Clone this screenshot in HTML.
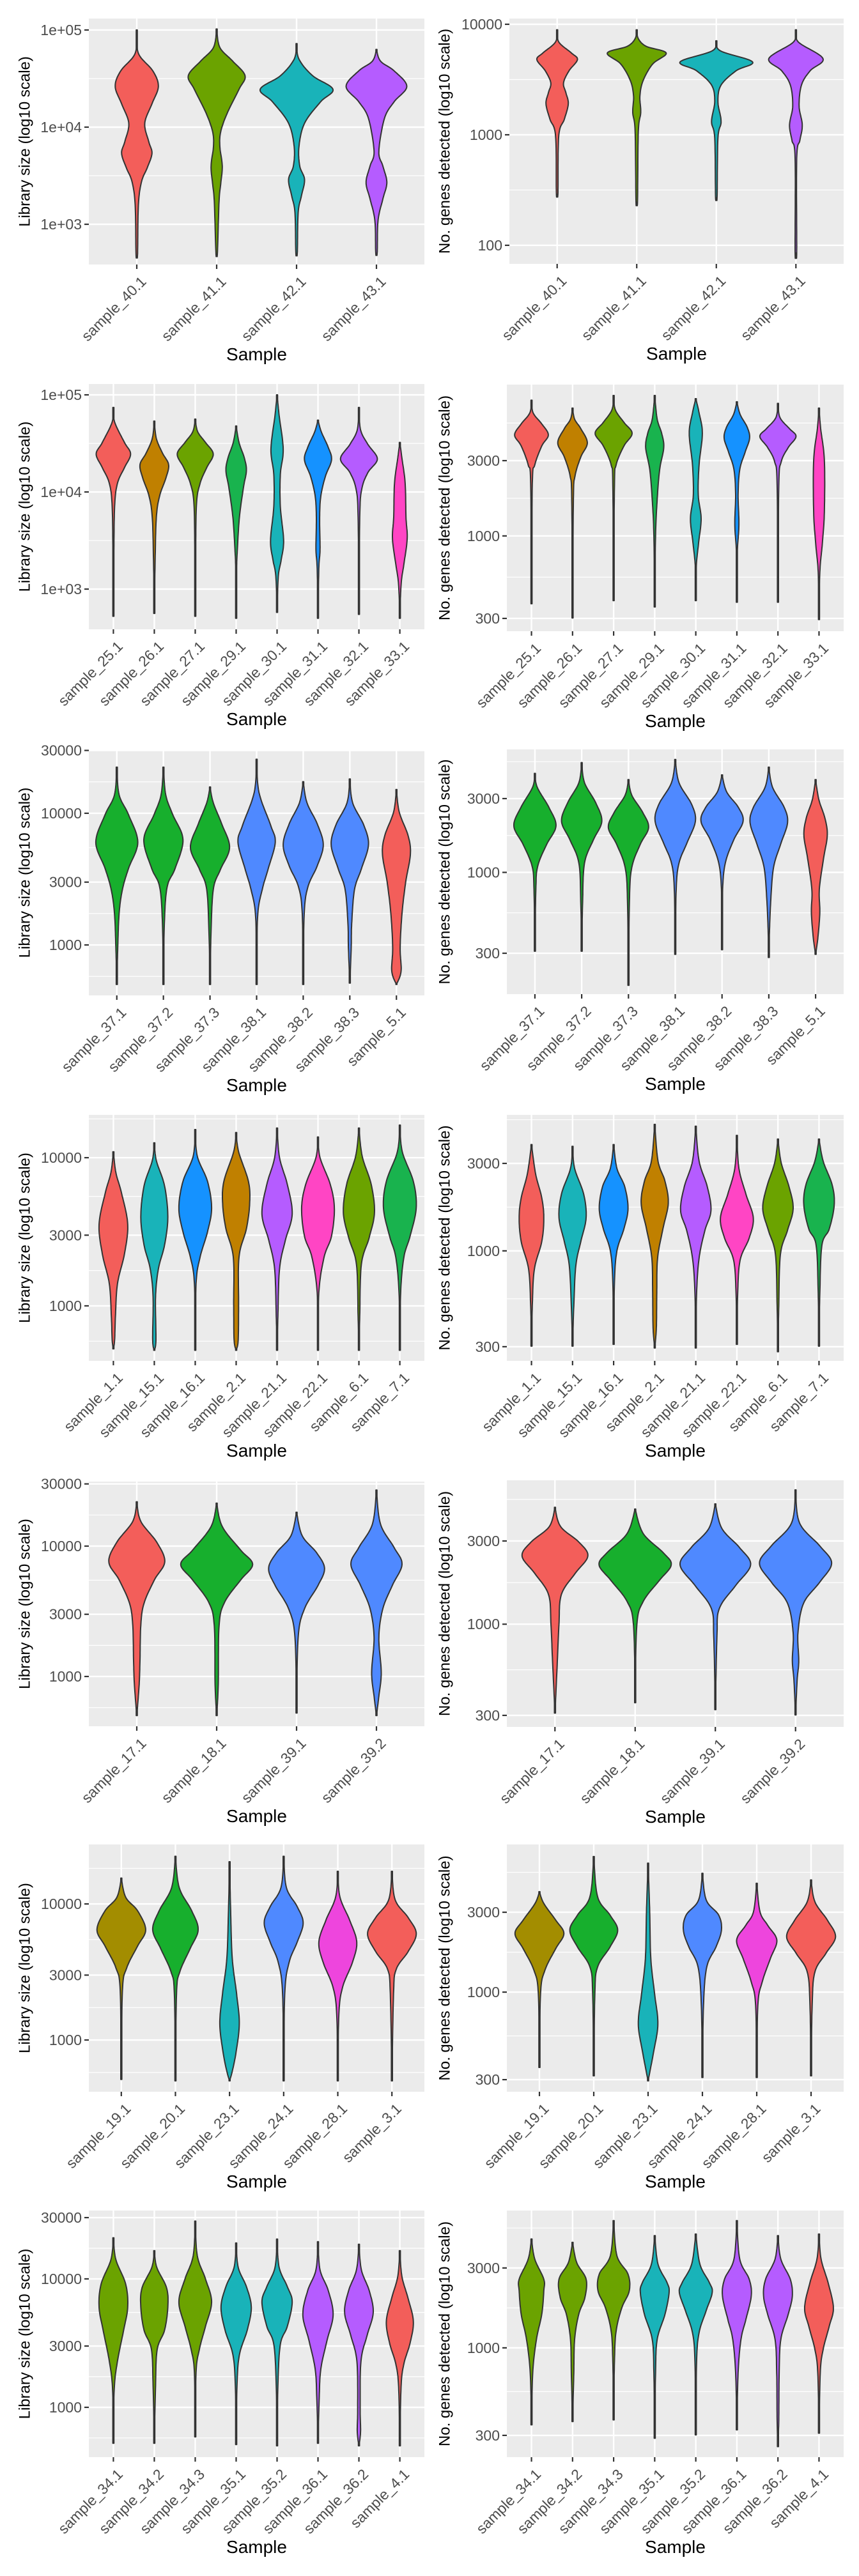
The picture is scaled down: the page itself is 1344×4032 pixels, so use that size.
<!DOCTYPE html>
<html><head><meta charset="utf-8"><title>Violin QC plots</title>
<style>html,body{margin:0;padding:0;background:#fff}svg{display:block}</style></head>
<body>
<svg id="fig" xmlns="http://www.w3.org/2000/svg" width="1344" height="4032" viewBox="0 0 1344 4032"></svg>
<script>
// ---------- colours ----------
const C = {red:'#F35E5A',gold:'#C08000',olive:'#6BA300',green:'#19B34E',teal:'#19B3B9',blue:'#1592FF',purple:'#B55CFF',pink:'#FF45C4',blue2:'#4F89FF',green3:'#17AF2D',olive2:'#A38D00',magenta:'#EE45DD'};
// ---------- data: categories ----------
const cats1 = ['sample_40.1','sample_41.1','sample_42.1','sample_43.1'];
const cats2 = ['sample_25.1','sample_26.1','sample_27.1','sample_29.1','sample_30.1','sample_31.1','sample_32.1','sample_33.1'];
const cats3 = ['sample_37.1','sample_37.2','sample_37.3','sample_38.1','sample_38.2','sample_38.3','sample_5.1'];
const cats4 = ['sample_1.1','sample_15.1','sample_16.1','sample_2.1','sample_21.1','sample_22.1','sample_6.1','sample_7.1'];
const cats5 = ['sample_17.1','sample_18.1','sample_39.1','sample_39.2'];
const cats6 = ['sample_19.1','sample_20.1','sample_23.1','sample_24.1','sample_28.1','sample_3.1'];
const cats7 = ['sample_34.1','sample_34.2','sample_34.3','sample_35.1','sample_35.2','sample_36.1','sample_36.2','sample_4.1'];
const fill1 = [C.red,C.olive,C.teal,C.purple];
const fill2 = [C.red,C.gold,C.olive,C.green,C.teal,C.blue,C.purple,C.pink];
const fill3 = [C.green3,C.green3,C.green3,C.blue2,C.blue2,C.blue2,C.red];
const fill4 = [C.red,C.teal,C.blue,C.gold,C.purple,C.pink,C.olive,C.green];
const fill5 = [C.red,C.green3,C.blue2,C.blue2];
const fill6 = [C.olive2,C.green3,C.teal,C.blue2,C.magenta,C.red];
const fill7 = [C.olive,C.olive,C.olive,C.teal,C.teal,C.purple,C.purple,C.red];
// ---------- data: tick values ----------
const libTicksA = [1000,10000,100000];
const libTicksB = [1000,3000,10000,30000];
const libTicksC = [1000,3000,10000];
const genTicksA = [100,1000,10000];
const genTicksB = [300,1000,3000];
// ---------- data: violin density profiles [log10(value), half-width as fraction of band] ----------
const lib1 = [
[[5.0,0],[4.76,.02],[4.58,.2],[4.42,.27],[4.24,.19],[4.04,.1],[3.85,.15],[3.73,.19],[3.58,.13],[3.44,.06],[3.2,.02],[2.7,.01],[2.67,0]],
[[5.01,0],[4.82,.04],[4.68,.2],[4.53,.355],[4.39,.28],[4.14,.13],[3.95,.05],[3.8,.04],[3.6,.07],[3.41,.05],[3.24,.03],[2.72,.01],[2.68,0]],
[[4.86,0],[4.7,.03],[4.53,.2],[4.39,.455],[4.26,.3],[4.04,.1],[3.8,.03],[3.6,.04],[3.46,.1],[3.29,.06],[3.12,.02],[2.72,.01],[2.68,0]],
[[4.8,0],[4.68,.05],[4.58,.22],[4.42,.38],[4.26,.22],[4.09,.1],[3.75,.03],[3.6,.08],[3.43,.13],[3.26,.08],[3.04,.02],[2.72,.01],[2.68,0]]];
const gen1 = [
[[3.95,0],[3.84,.02],[3.74,.18],[3.68,.255],[3.58,.15],[3.47,.08],[3.38,.11],[3.28,.14],[3.14,.09],[2.99,.02],[2.48,.01],[2.46,0]],
[[3.95,0],[3.87,.02],[3.8,.12],[3.74,.37],[3.64,.2],[3.49,.08],[3.35,.04],[3.2,.05],[3.03,.02],[2.41,.01],[2.39,0]],
[[3.85,0],[3.76,.05],[3.66,.455],[3.58,.25],[3.45,.06],[3.3,.02],[3.12,.06],[2.97,.02],[2.45,.01],[2.43,0]],
[[3.95,0],[3.84,.03],[3.69,.34],[3.58,.18],[3.45,.07],[3.26,.04],[3.09,.08],[2.95,.05],[2.79,.01],[1.95,.01],[1.93,0]]];
const lib2 = [
[[4.87,0],[4.72,.03],[4.51,.27],[4.39,.42],[4.25,.27],[4.09,.1],[3.85,.03],[3.3,.01],[2.72,0]],
[[4.73,0],[4.55,.05],[4.4,.2],[4.28,.35],[4.14,.28],[3.96,.13],[3.74,.05],[3.3,.02],[2.75,0]],
[[4.75,0],[4.62,.06],[4.51,.25],[4.39,.44],[4.25,.28],[4.09,.12],[3.87,.03],[3.3,.01],[2.72,0]],
[[4.68,0],[4.51,.07],[4.35,.2],[4.22,.25],[4.05,.18],[3.74,.08],[3.41,.03],[3.19,.01],[2.7,0]],
[[5.0,0],[4.79,.05],[4.44,.15],[4.18,.08],[3.85,.08],[3.5,.16],[3.3,.1],[3.13,.03],[2.76,0]],
[[4.74,0],[4.62,.08],[4.46,.25],[4.33,.33],[4.16,.18],[3.96,.07],[3.74,.04],[3.41,.05],[3.21,.02],[2.7,0]],
[[4.87,0],[4.64,.04],[4.49,.22],[4.34,.45],[4.2,.22],[4.03,.07],[3.74,.02],[2.74,0]],
[[4.51,0],[4.35,.05],[4.09,.13],[3.74,.15],[3.52,.18],[3.26,.1],[3.09,.04],[2.87,.01],[2.7,0]]];
const gen2 = [
[[3.86,0],[3.78,.04],[3.71,.25],[3.64,.41],[3.57,.25],[3.45,.08],[3.33,.02],[2.57,0]],
[[3.81,0],[3.74,.05],[3.68,.2],[3.59,.36],[3.5,.2],[3.38,.06],[3.23,.02],[2.48,0]],
[[3.89,0],[3.8,.04],[3.72,.25],[3.65,.45],[3.57,.25],[3.45,.06],[3.32,.02],[2.59,0]],
[[3.89,0],[3.74,.06],[3.65,.17],[3.56,.22],[3.42,.12],[3.23,.06],[3.0,.02],[2.55,0]],
[[3.87,0],[3.78,.08],[3.65,.16],[3.45,.08],[3.26,.06],[3.11,.13],[2.96,.07],[2.8,.01],[2.59,0]],
[[3.85,0],[3.77,.08],[3.69,.25],[3.62,.31],[3.53,.2],[3.42,.07],[3.26,.03],[3.07,.05],[2.89,.01],[2.58,0]],
[[3.84,0],[3.75,.05],[3.68,.28],[3.63,.44],[3.56,.25],[3.47,.08],[3.32,.02],[2.58,0]],
[[3.81,0],[3.68,.04],[3.48,.13],[3.15,.13],[2.95,.08],[2.77,.02],[2.47,0]]];
const lib3 = [
[[4.35,0],[4.14,.05],[3.99,.25],[3.78,.45],[3.58,.25],[3.42,.12],[3.24,.05],[2.98,.02],[2.7,0]],
[[4.35,0],[4.14,.05],[3.99,.2],[3.8,.42],[3.58,.25],[3.44,.08],[3.16,.02],[2.7,0]],
[[4.2,0],[4.08,.07],[3.92,.25],[3.74,.42],[3.57,.22],[3.42,.07],[3.07,.02],[2.7,0]],
[[4.41,0],[4.16,.05],[3.91,.3],[3.78,.4],[3.58,.25],[3.42,.12],[3.21,.02],[2.7,0]],
[[4.24,0],[4.08,.08],[3.92,.3],[3.76,.43],[3.6,.3],[3.44,.1],[3.23,.02],[2.7,0]],
[[4.26,0],[4.08,.06],[3.91,.3],[3.76,.4],[3.58,.25],[3.42,.1],[3.16,.04],[2.98,.03],[2.71,0]],
[[4.18,0],[4.01,.06],[3.83,.25],[3.69,.3],[3.48,.2],[3.24,.12],[2.98,.08],[2.8,.1],[2.7,0]]];
const gen3 = [
[[3.64,0],[3.55,.05],[3.42,.3],[3.3,.45],[3.18,.25],[3.04,.06],[2.89,.02],[2.49,0]],
[[3.71,0],[3.58,.06],[3.45,.3],[3.33,.43],[3.21,.25],[3.06,.06],[2.81,.02],[2.49,0]],
[[3.6,0],[3.5,.07],[3.39,.3],[3.29,.43],[3.18,.25],[3.03,.07],[2.81,.02],[2.27,0]],
[[3.73,0],[3.58,.08],[3.44,.35],[3.33,.43],[3.19,.25],[3.06,.08],[2.89,.02],[2.47,0]],
[[3.63,0],[3.52,.1],[3.42,.35],[3.33,.45],[3.21,.25],[3.06,.07],[2.87,.01],[2.5,0]],
[[3.68,0],[3.55,.08],[3.42,.33],[3.32,.4],[3.18,.25],[3.03,.1],[2.81,.04],[2.58,.01],[2.45,0]],
[[3.6,0],[3.47,.07],[3.35,.2],[3.24,.25],[3.09,.17],[2.89,.08],[2.74,.09],[2.58,.05],[2.47,0]]];
const lib4 = [
[[4.04,0],[3.9,.06],[3.76,.2],[3.55,.35],[3.35,.27],[3.15,.1],[2.93,.05],[2.77,.03],[2.71,0]],
[[4.1,0],[3.98,.05],[3.81,.25],[3.6,.33],[3.41,.25],[3.25,.1],[3.06,.03],[2.77,.04],[2.7,0]],
[[4.19,0],[4.01,.05],[3.84,.3],[3.66,.4],[3.5,.3],[3.33,.12],[3.15,.02],[2.7,0]],
[[4.17,0],[4.04,.06],[3.84,.3],[3.69,.33],[3.52,.25],[3.33,.07],[3.01,.06],[2.77,.05],[2.7,0]],
[[4.2,0],[4.0,.06],[3.82,.25],[3.62,.37],[3.44,.2],[3.25,.06],[2.93,.02],[2.7,0]],
[[4.14,0],[4.0,.05],[3.82,.3],[3.66,.4],[3.47,.33],[3.33,.15],[3.09,.02],[2.7,0]],
[[4.2,0],[4.01,.08],[3.82,.3],[3.63,.38],[3.46,.25],[3.28,.06],[2.93,.02],[2.7,0]],
[[4.22,0],[4.04,.06],[3.84,.33],[3.66,.4],[3.47,.25],[3.33,.1],[3.09,.02],[2.7,0]]];
const gen4 = [
[[3.58,0],[3.42,.1],[3.29,.25],[3.18,.3],[3.05,.25],[2.9,.07],[2.7,.02],[2.48,0]],
[[3.57,0],[3.45,.05],[3.31,.27],[3.18,.33],[3.05,.2],[2.92,.08],[2.7,.03],[2.48,0]],
[[3.58,0],[3.45,.08],[3.35,.27],[3.23,.35],[3.12,.25],[3.0,.08],[2.83,.02],[2.49,0]],
[[3.69,0],[3.49,.08],[3.38,.25],[3.26,.33],[3.12,.2],[2.96,.07],[2.77,.05],[2.58,.04],[2.47,0]],
[[3.68,0],[3.49,.08],[3.35,.28],[3.22,.37],[3.11,.22],[2.96,.08],[2.77,.02],[2.47,0]],
[[3.63,0],[3.45,.05],[3.31,.22],[3.18,.4],[3.07,.3],[2.95,.08],[2.77,.02],[2.49,0]],
[[3.61,0],[3.48,.08],[3.35,.27],[3.23,.37],[3.11,.23],[2.98,.06],[2.7,.02],[2.45,0]],
[[3.61,0],[3.49,.1],[3.36,.32],[3.25,.37],[3.12,.25],[3.03,.07],[2.77,.02],[2.48,0]]];
const lib5 = [
[[4.34,0],[4.19,.05],[4.03,.25],[3.88,.35],[3.74,.22],[3.56,.09],[3.39,.05],[3.12,.04],[2.94,.03],[2.7,0]],
[[4.33,0],[4.15,.07],[3.97,.3],[3.86,.45],[3.74,.3],[3.57,.1],[3.39,.03],[2.94,.02],[2.7,0]],
[[4.26,0],[4.08,.07],[3.95,.25],[3.83,.35],[3.7,.27],[3.52,.1],[3.3,.02],[2.72,0]],
[[4.43,0],[4.17,.05],[3.99,.22],[3.86,.32],[3.7,.2],[3.52,.08],[3.3,.03],[3.03,.06],[2.85,.03],[2.7,0]]];
const gen5 = [
[[3.67,0],[3.56,.07],[3.47,.3],[3.39,.41],[3.29,.25],[3.17,.08],[3.0,.05],[2.79,.03],[2.49,0]],
[[3.66,0],[3.52,.1],[3.41,.35],[3.34,.45],[3.25,.3],[3.13,.1],[2.99,.02],[2.55,0]],
[[3.69,0],[3.55,.08],[3.44,.3],[3.34,.44],[3.22,.25],[3.09,.05],[2.93,.02],[2.51,0]],
[[3.77,0],[3.58,.05],[3.45,.3],[3.35,.45],[3.24,.3],[3.12,.1],[2.95,.03],[2.79,.04],[2.68,.02],[2.48,0]]];
const lib6 = [
[[4.19,0],[4.05,.08],[3.95,.3],[3.81,.45],[3.69,.3],[3.53,.1],[3.36,.02],[2.71,0]],
[[4.35,0],[4.12,.07],[3.95,.3],[3.81,.42],[3.67,.27],[3.5,.08],[3.34,.02],[2.7,0]],
[[4.31,0],[3.95,.02],[3.6,.05],[3.34,.13],[3.12,.18],[2.91,.12],[2.77,.05],[2.7,0]],
[[4.35,0],[4.12,.05],[3.98,.25],[3.86,.36],[3.72,.25],[3.57,.1],[3.34,.02],[2.7,0]],
[[4.24,0],[4.05,.04],[3.88,.22],[3.72,.35],[3.57,.27],[3.39,.09],[3.19,.02],[2.7,0]],
[[4.24,0],[4.03,.06],[3.9,.3],[3.78,.45],[3.65,.3],[3.52,.08],[3.34,.03],[2.7,0]]];
const gen6 = [
[[3.6,0],[3.53,.08],[3.43,.3],[3.35,.45],[3.26,.3],[3.13,.1],[2.99,.02],[2.55,0]],
[[3.81,0],[3.57,.07],[3.46,.3],[3.37,.44],[3.27,.3],[3.15,.07],[2.99,.02],[2.5,0]],
[[3.77,0],[3.48,.03],[3.2,.05],[2.99,.12],[2.81,.18],[2.64,.1],[2.47,0]],
[[3.71,0],[3.55,.07],[3.46,.3],[3.37,.35],[3.27,.25],[3.15,.08],[2.92,.02],[2.49,0]],
[[3.65,0],[3.48,.06],[3.4,.2],[3.31,.37],[3.2,.25],[3.06,.1],[2.92,.02],[2.49,0]],
[[3.67,0],[3.54,.07],[3.43,.3],[3.33,.45],[3.23,.27],[3.12,.07],[2.92,.02],[2.5,0]]];
const lib7 = [
[[4.32,0],[4.15,.06],[3.96,.3],[3.78,.35],[3.6,.25],[3.36,.1],[3.14,.02],[2.72,0]],
[[4.22,0],[4.09,.06],[3.93,.3],[3.78,.33],[3.6,.25],[3.45,.07],[3.17,.03],[2.72,0]],
[[4.45,0],[4.18,.05],[4.0,.25],[3.82,.4],[3.63,.25],[3.45,.1],[3.27,.02],[2.77,0]],
[[4.28,0],[4.09,.05],[3.94,.25],[3.78,.37],[3.6,.27],[3.41,.08],[3.17,.02],[2.71,0]],
[[4.31,0],[4.09,.05],[3.94,.25],[3.82,.37],[3.63,.25],[3.49,.08],[3.17,.02],[2.7,0]],
[[4.29,0],[4.07,.05],[3.91,.25],[3.72,.37],[3.52,.22],[3.3,.07],[3.08,.03],[2.72,0]],
[[4.27,0],[4.07,.06],[3.91,.25],[3.74,.35],[3.56,.2],[3.36,.05],[2.99,.03],[2.81,.04],[2.7,0]],
[[4.22,0],[4.02,.05],[3.85,.2],[3.67,.33],[3.5,.25],[3.34,.1],[3.16,.03],[2.7,0]]];
const gen7 = [
[[3.65,0],[3.53,.08],[3.41,.3],[3.34,.3],[3.2,.25],[3.05,.12],[2.85,.03],[2.54,0]],
[[3.63,0],[3.51,.1],[3.41,.33],[3.3,.3],[3.2,.15],[3.05,.05],[2.85,.03],[2.56,0]],
[[3.76,0],[3.55,.08],[3.44,.35],[3.34,.38],[3.24,.2],[3.1,.06],[2.92,.02],[2.57,0]],
[[3.67,0],[3.5,.08],[3.39,.3],[3.33,.35],[3.2,.25],[3.05,.06],[2.85,.02],[2.46,0]],
[[3.68,0],[3.5,.1],[3.39,.33],[3.33,.4],[3.22,.25],[3.09,.08],[2.92,.02],[2.48,0]],
[[3.76,0],[3.53,.07],[3.41,.3],[3.31,.35],[3.17,.22],[3.05,.1],[2.85,.03],[2.51,0]],
[[3.67,0],[3.53,.07],[3.41,.3],[3.31,.35],[3.2,.25],[3.05,.07],[2.85,.03],[2.57,.02],[2.41,0]],
[[3.68,0],[3.53,.05],[3.39,.22],[3.24,.35],[3.13,.25],[2.99,.1],[2.85,.03],[2.49,0]]];

// ---------- layout (geometry, not data) ----------
const LIB = 'Library size (log10 scale)', GEN = 'No. genes detected (log10 scale)';
const panels = [
 {id:'p1',col:0,y0:29,y1:414,lo:2.586,hi:5.118,ticks:libTicksA,sci:true,cats:cats1,fill:fill1,shapes:lib1,title:LIB},
 {id:'p2',col:1,y0:29,y1:413,lo:1.832,hi:4.052,ticks:genTicksA,cats:cats1,fill:fill1,shapes:gen1,title:GEN,left:797},
 {id:'p3',col:0,y0:601,y1:985,lo:2.586,hi:5.112,ticks:libTicksA,sci:true,cats:cats2,fill:fill2,shapes:lib2,title:LIB},
 {id:'p4',col:1,y0:602,y1:988,lo:2.396,hi:3.959,ticks:genTicksB,cats:cats2,fill:fill2,shapes:gen2,title:GEN},
 {id:'p5',col:0,y0:1174,y1:1558,lo:2.617,hi:4.48,ticks:libTicksB,cats:cats3,fill:fill3,shapes:lib3,title:LIB},
 {id:'p6',col:1,y0:1173,y1:1556,lo:2.213,hi:3.795,ticks:genTicksB,cats:cats3,fill:fill3,shapes:gen3,title:GEN},
 {id:'p7',col:0,y0:1745,y1:2130,lo:2.629,hi:4.289,ticks:libTicksC,cats:cats4,fill:fill4,shapes:lib4,title:LIB},
 {id:'p8',col:1,y0:1745,y1:2130,lo:2.40,hi:3.742,ticks:genTicksB,cats:cats4,fill:fill4,shapes:gen4,title:GEN},
 {id:'p9',col:0,y0:2319,y1:2702,lo:2.618,hi:4.495,ticks:libTicksB,cats:cats5,fill:fill5,shapes:lib5,title:LIB},
 {id:'p10',col:1,y0:2317,y1:2703,lo:2.411,hi:3.825,ticks:genTicksB,cats:cats5,fill:fill5,shapes:gen5,title:GEN},
 {id:'p11',col:0,y0:2887,y1:3274,lo:2.62,hi:4.437,ticks:libTicksC,cats:cats6,fill:fill6,shapes:lib6,title:LIB},
 {id:'p12',col:1,y0:2887,y1:3274,lo:2.405,hi:3.882,ticks:genTicksB,cats:cats6,fill:fill6,shapes:gen6,title:GEN},
 {id:'p13',col:0,y0:3460,y1:3846,lo:2.612,hi:4.532,ticks:libTicksB,cats:cats7,fill:fill7,shapes:lib7,title:LIB},
 {id:'p14',col:1,y0:3460,y1:3846,lo:2.347,hi:3.82,ticks:genTicksB,cats:cats7,fill:fill7,shapes:gen7,title:GEN}
];
const NS = 'http://www.w3.org/2000/svg';
const svg = document.getElementById('fig');
function mk(tag, attrs, parent){ const e=document.createElementNS(NS,tag); for(const k in attrs) e.setAttribute(k,attrs[k]); parent.appendChild(e); return e; }
function fmt(v, sci){ if(!sci) return String(v); const e=Math.round(Math.log10(v)); return '1e+'+(e<10?'0':'')+e; }
function catmull(pts, steps){
  const out=[]; const n=pts.length;
  for(let i=0;i<n-1;i++){
    const p0=pts[Math.max(0,i-1)], p1=pts[i], p2=pts[i+1], p3=pts[Math.min(n-1,i+2)];
    for(let s=0;s<steps;s++){
      const t=s/steps, t2=t*t, t3=t2*t;
      const f=(a,b,c,d)=>0.5*((2*b)+(-a+c)*t+(2*a-5*b+4*c-d)*t2+(-a+3*b-3*c+d)*t3);
      out.push([f(p0[0],p1[0],p2[0],p3[0]), f(p0[1],p1[1],p2[1],p3[1])]);
    }
  }
  out.push(pts[n-1]); return out;
}
panels.forEach((P)=>{
  const x0 = P.left || (P.col===0 ? 139 : 793);
  const x1 = P.col===0 ? 664 : 1320;
  const n = P.cats.length;
  const band = (x1-x0)/(n+0.2);
  const xS = i => x0 + (i+0.6)*band;
  const yS = lg => P.y1 - (lg-P.lo)/(P.hi-P.lo)*(P.y1-P.y0);
  const g = mk('g',{},svg);
  
  
  const bg = mk('rect',{x:x0,y:P.y0,width:x1-x0,height:P.y1-P.y0,fill:'#EBEBEB'},g);
  
  
  // gridlines
  const logs = P.ticks.map(v=>Math.log10(v));
  const minors = [];
  for(let i=0;i<logs.length-1;i++) minors.push((logs[i]+logs[i+1])/2);
  minors.push(logs[0]-(logs[1]-logs[0])/2);
  minors.push(logs[logs.length-1]+(logs[logs.length-1]-logs[logs.length-2])/2);
  minors.forEach(m=>{ const y=yS(m); if(y>P.y0+1 && y<P.y1-1){ const l=mk('line',{x1:x0,x2:x1,y1:y,y2:y,stroke:'#fff','stroke-width':1.2},g);   }});
  logs.forEach((lg,i)=>{ const y=yS(lg);
    const l=mk('line',{x1:x0,x2:x1,y1:y,y2:y,stroke:'#fff','stroke-width':2.4},g);
     
    const t=mk('line',{x1:x0-7,x2:x0,y1:y,y2:y,stroke:'#333','stroke-width':2.2},g);
     
    const tx=mk('text',{x:x0-11,y:y+8,'text-anchor':'end','font-family':'Liberation Sans, sans-serif','font-size':23,fill:'#4D4D4D'},g);
    tx.textContent=fmt(P.ticks[i],P.sci);
     
  });
  P.cats.forEach((c,i)=>{ const x=xS(i);
    const l=mk('line',{x1:x,x2:x,y1:P.y0,y2:P.y1,stroke:'#fff','stroke-width':2.4},g);
     
    const t=mk('line',{x1:x,x2:x,y1:P.y1,y2:P.y1+7,stroke:'#333','stroke-width':2.2},g);
     
    const ax=x+4, ay=P.y1+16;
    const tx=mk('text',{x:ax,y:ay,dy:'0.75em','text-anchor':'end','font-family':'Liberation Sans, sans-serif','font-size':23,fill:'#4D4D4D',transform:'rotate(-45 '+ax+' '+ay+')'},g);
    tx.textContent=c;
     
  });
  // violins
  P.shapes.forEach((prof,i)=>{
    const cx=xS(i);
    const pts=prof.map(p=>[Math.max(p[1]*band,0), yS(p[0])]);
    const sm=catmull(pts,12).map(p=>[Math.max(p[0],0.8),p[1]]);
    let d='M'+cx.toFixed(1)+','+sm[0][1].toFixed(1);
    sm.forEach(p=>{ d+='L'+(cx+p[0]).toFixed(1)+','+p[1].toFixed(1); });
    for(let k=sm.length-1;k>=0;k--){ d+='L'+(cx-sm[k][0]).toFixed(1)+','+sm[k][1].toFixed(1); }
    d+='Z';
    const v=mk('path',{d:d,fill:P.fill[i],stroke:'#333','stroke-width':2,'stroke-linejoin':'round'},g);
    
    
  });
  // axis titles
  const tX = P.col===0 ? 39 : 696, tY=(P.y0+P.y1)/2;
  const yt=mk('text',{x:tX,y:tY,'text-anchor':'middle','dominant-baseline':'central','font-family':'Liberation Sans, sans-serif','font-size':24,fill:'#000',transform:'rotate(-90 '+tX+' '+tY+')'},g);
  yt.textContent=P.title;
   
  const xt=mk('text',{x:(x0+x1)/2,y:P.y1+150,'text-anchor':'middle','font-family':'Liberation Sans, sans-serif','font-size':28,fill:'#000'},g);
  xt.textContent='Sample';
   
});
</script>
</body></html>
